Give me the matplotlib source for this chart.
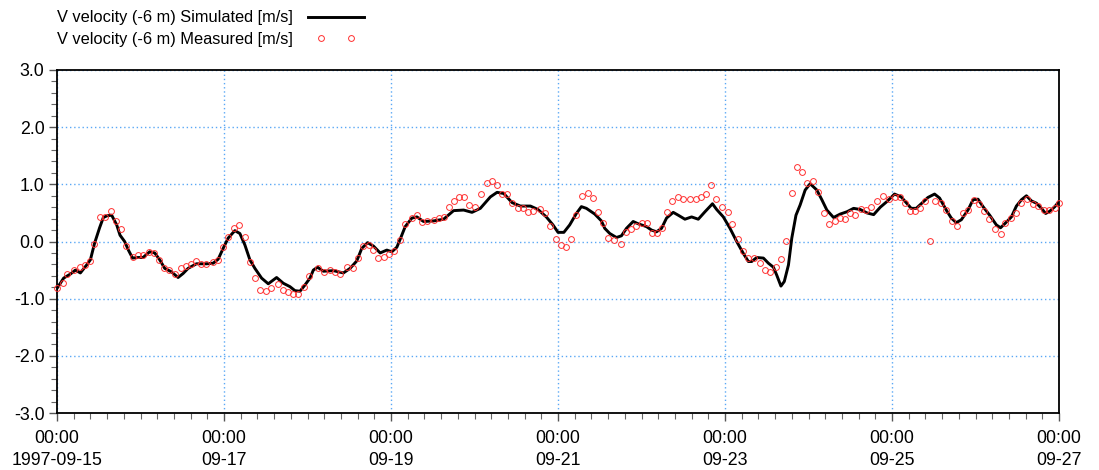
import matplotlib
matplotlib.use("Agg")
import matplotlib.pyplot as plt
from matplotlib.ticker import MultipleLocator, FixedLocator, FixedFormatter, FormatStrFormatter
from matplotlib.legend_handler import HandlerLine2D

plt.rcParams['font.family'] = ['Liberation Sans', 'DejaVu Sans']

# ---- data (days since 1997-09-15 00:00, velocity m/s) ----
sim_day = [0.00, 0.08, 0.16, 0.22, 0.28, 0.35, 0.40, 0.45, 0.51, 0.555, 0.60, 0.655, 0.715, 0.755,
           0.81, 0.855, 0.905, 0.97, 1.03, 1.11, 1.17, 1.23, 1.29, 1.37, 1.45, 1.51, 1.57, 1.67,
           1.79, 1.87, 1.93, 1.99, 2.05, 2.13, 2.19, 2.25, 2.31, 2.37, 2.45, 2.53, 2.63, 2.71,
           2.79, 2.85, 2.91, 2.97, 3.03, 3.07, 3.12, 3.19, 3.31, 3.43, 3.51, 3.59, 3.65, 3.72,
           3.79, 3.87, 3.95, 4.01, 4.07, 4.11, 4.17, 4.25, 4.31, 4.39, 4.51, 4.63, 4.75, 4.87,
           4.97, 5.07, 5.19, 5.27, 5.35, 5.45, 5.55, 5.67, 5.76, 5.86, 5.94, 6.00, 6.07, 6.14,
           6.22, 6.28, 6.34, 6.44, 6.52, 6.56, 6.62, 6.70, 6.76, 6.82, 6.90, 6.96, 7.06, 7.12,
           7.18, 7.24, 7.30, 7.38, 7.44, 7.52, 7.60, 7.68, 7.76, 7.85, 7.90, 7.98, 8.06, 8.14,
           8.22, 8.28, 8.32, 8.38, 8.46, 8.52, 8.58, 8.62, 8.67, 8.71, 8.76, 8.80, 8.85, 8.90,
           8.96, 9.02, 9.10, 9.16, 9.22, 9.30, 9.38, 9.46, 9.54, 9.62, 9.70, 9.78, 9.86, 9.94,
           10.03, 10.11, 10.17, 10.23, 10.29, 10.35, 10.43, 10.51, 10.57, 10.65, 10.71, 10.77,
           10.83, 10.91, 10.97, 11.03, 11.09, 11.17, 11.25, 11.30, 11.35, 11.43, 11.49, 11.55,
           11.61, 11.67, 11.73, 11.79, 11.84, 11.89, 11.95, 12.00]
sim_v = [-0.82, -0.64, -0.57, -0.50, -0.55, -0.42, -0.32, -0.03, 0.24, 0.42, 0.45, 0.46, 0.29, 0.11,
         0.00, -0.15, -0.29, -0.28, -0.28, -0.18, -0.20, -0.32, -0.47, -0.53, -0.63, -0.56, -0.47, -0.39,
         -0.39, -0.38, -0.31, -0.12, 0.06, 0.19, 0.14, -0.06, -0.32, -0.47, -0.64, -0.74, -0.63, -0.73,
         -0.79, -0.86, -0.87, -0.76, -0.64, -0.50, -0.45, -0.52, -0.51, -0.55, -0.47, -0.34, -0.12, -0.02,
         -0.08, -0.20, -0.15, -0.18, -0.10, 0.04, 0.26, 0.41, 0.43, 0.35, 0.36, 0.39, 0.54, 0.55,
         0.51, 0.58, 0.78, 0.86, 0.84, 0.68, 0.62, 0.62, 0.56, 0.43, 0.29, 0.16, 0.16, 0.29,
         0.49, 0.61, 0.58, 0.48, 0.36, 0.23, 0.14, 0.07, 0.10, 0.23, 0.35, 0.31, 0.26, 0.20,
         0.17, 0.23, 0.41, 0.51, 0.46, 0.39, 0.43, 0.39, 0.52, 0.66, 0.56, 0.43, 0.23, 0.00,
         -0.21, -0.35, -0.35, -0.28, -0.29, -0.38, -0.45, -0.59, -0.78, -0.70, -0.41, 0.06, 0.46, 0.64,
         0.90, 1.01, 0.90, 0.73, 0.55, 0.42, 0.48, 0.52, 0.58, 0.56, 0.50, 0.47, 0.60, 0.70,
         0.83, 0.78, 0.68, 0.58, 0.58, 0.66, 0.77, 0.83, 0.76, 0.55, 0.41, 0.33,
         0.38, 0.55, 0.73, 0.74, 0.61, 0.46, 0.29, 0.24, 0.31, 0.43, 0.62, 0.73,
         0.80, 0.71, 0.67, 0.58, 0.49, 0.53, 0.61, 0.70]

meas_day = [0.00, 0.07, 0.12, 0.20, 0.27, 0.335, 0.395, 0.447, 0.515, 0.575, 0.643, 0.707, 0.766,
            0.826, 0.906, 0.974, 1.034, 1.10, 1.166, 1.226, 1.286, 1.345, 1.413, 1.481, 1.541,
            1.601, 1.661, 1.721, 1.784, 1.872, 1.932, 1.992, 2.052, 2.12, 2.183, 2.251, 2.311,
            2.371, 2.431, 2.499, 2.559, 2.643, 2.703, 2.763, 2.83, 2.89, 2.958, 3.018, 3.13,
            3.20, 3.27, 3.33, 3.39, 3.47, 3.54, 3.61, 3.67, 3.74, 3.79, 3.85, 3.92, 3.98, 4.04,
            4.11, 4.17, 4.25, 4.31, 4.37, 4.43, 4.51, 4.57, 4.63, 4.69, 4.75, 4.81, 4.87, 4.94,
            5.01, 5.08, 5.15, 5.21, 5.27, 5.33, 5.39, 5.45, 5.52, 5.58, 5.64, 5.70, 5.78, 5.84,
            5.91, 5.98, 6.04, 6.10, 6.16, 6.22, 6.29, 6.36, 6.42, 6.48, 6.54, 6.60, 6.67, 6.75,
            6.81, 6.88, 6.94, 7.00, 7.06, 7.12, 7.19, 7.25, 7.31, 7.37, 7.44, 7.50, 7.58, 7.65,
            7.71, 7.77, 7.83, 7.89, 7.96, 8.03, 8.08, 8.15, 8.21, 8.28, 8.35, 8.42, 8.48, 8.54,
            8.61, 8.67, 8.73, 8.80, 8.86, 8.92, 8.98, 9.05, 9.11, 9.19, 9.25, 9.32, 9.38, 9.44,
            9.50, 9.56, 9.63, 9.69, 9.75, 9.82, 9.89, 9.96, 10.03, 10.09, 10.15, 10.22, 10.28,
            10.34, 10.40, 10.46, 10.52, 10.59, 10.65, 10.72, 10.78, 10.85, 10.91, 10.98, 11.04,
            11.10, 11.16, 11.23, 11.30, 11.35, 11.42, 11.49, 11.55, 11.62, 11.69, 11.75, 11.82,
            11.88, 11.95, 12.0]
meas_v = [-0.81, -0.72, -0.57, -0.49, -0.45, -0.41, -0.34, -0.04, 0.43, 0.43, 0.53, 0.36, 0.21,
          -0.08, -0.27, -0.24, -0.24, -0.18, -0.20, -0.32, -0.47, -0.50, -0.57, -0.46, -0.42,
          -0.40, -0.34, -0.39, -0.39, -0.36, -0.32, -0.10, 0.08, 0.24, 0.28, 0.07, -0.36,
          -0.63, -0.85, -0.86, -0.81, -0.74, -0.84, -0.88, -0.92, -0.92, -0.80, -0.60, -0.46,
          -0.53, -0.50, -0.54, -0.57, -0.45, -0.47, -0.29, -0.08, -0.06, -0.15, -0.28, -0.27, -0.21, -0.16,
          0.03, 0.31, 0.41, 0.46, 0.34, 0.36, 0.38, 0.41, 0.43, 0.61, 0.71, 0.77, 0.77, 0.63,
          0.61, 0.83, 1.03, 1.06, 0.98, 0.83, 0.83, 0.67, 0.59, 0.59, 0.51, 0.54, 0.56, 0.50,
          0.27, 0.04, -0.06, -0.09, 0.04, 0.46, 0.80, 0.84, 0.76, 0.52, 0.32, 0.06, 0.03, -0.05,
          0.17, 0.22, 0.27, 0.33, 0.32, 0.15, 0.15, 0.24, 0.51, 0.71, 0.77, 0.74, 0.74, 0.74,
          0.77, 0.83, 0.98, 0.74, 0.60, 0.52, 0.31, 0.04, -0.17, -0.28, -0.28, -0.37, -0.49, -0.53,
          -0.45, -0.31, 0.01, 0.84, 1.31, 1.22, 1.02, 1.06, 0.87, 0.49, 0.31, 0.36, 0.41, 0.39,
          0.50, 0.46, 0.56, 0.55, 0.61, 0.71, 0.80, 0.74, 0.77, 0.77, 0.67, 0.53, 0.53,
          0.58, 0.71, 0.01, 0.71, 0.67, 0.55, 0.36, 0.27, 0.50, 0.55, 0.73, 0.66,
          0.54, 0.39, 0.22, 0.13, 0.32, 0.41, 0.49, 0.67, 0.74, 0.66, 0.62, 0.55,
          0.55, 0.58, 0.67]

x_tick_days = [0, 2, 4, 6, 8, 10, 12]
x_tick_labels = ["00:00\n1997-09-15", "00:00\n09-17", "00:00\n09-19", "00:00\n09-21",
                 "00:00\n09-23", "00:00\n09-25", "00:00\n09-27"]
sim_label = "V velocity (-6 m) Simulated [m/s]"
meas_label = "V velocity (-6 m) Measured [m/s]"

# ---- figure ----
fig = plt.figure(figsize=(10.99, 4.70), dpi=100)
ax = fig.add_axes([57/1099, 1 - 413/470, (1059 - 57)/1099, (413 - 70)/470])

grid_color = '#5aa8f5'
ax.set_xlim(0, 12)
ax.set_ylim(-3, 3)
ax.xaxis.set_major_locator(FixedLocator(x_tick_days))
ax.xaxis.set_major_formatter(FixedFormatter(x_tick_labels))
ax.xaxis.set_minor_locator(MultipleLocator(0.2))
ax.yaxis.set_major_locator(MultipleLocator(1.0))
ax.yaxis.set_minor_locator(MultipleLocator(0.2))
ax.yaxis.set_major_formatter(FormatStrFormatter('%.1f'))

ax.grid(True, which='major', color=grid_color, linestyle=(0, (1, 2)), linewidth=1.0)
ax.set_axisbelow(True)

ax.tick_params(which='major', direction='out', length=6, width=1.0, color='#555555',
               labelsize=12.8, labelcolor='black')
ax.tick_params(axis='x', which='major', pad=6)
ax.tick_params(axis='y', which='major', pad=3)
ax.tick_params(which='minor', direction='out', length=4, width=0.8, color='#666666')
for lbl in ax.get_xticklabels():
    lbl.set_linespacing(1.4)

for s in ax.spines.values():
    s.set_color('black')
    s.set_linewidth(1.3)

(line_sim,) = ax.plot(sim_day, sim_v, color='black', linewidth=2.1, solid_joinstyle='round',
                      label=sim_label, zorder=3)
(line_meas,) = ax.plot(meas_day, meas_v, linestyle='none', marker='o', markersize=4.2,
                       markerfacecolor='none', markeredgecolor='#ff3030', markeredgewidth=0.7,
                       label=meas_label, zorder=4, clip_on=False)

leg = fig.legend(handles=[line_sim, line_meas], loc='upper left',
                 bbox_to_anchor=(54/1099, 1 - 7/470), frameon=False, markerfirst=False,
                 fontsize=11.8, handlelength=3.45, handletextpad=0.9, labelspacing=0.4,
                 borderaxespad=0, borderpad=0.2,
                 handler_map={line_meas: HandlerLine2D(numpoints=2, marker_pad=0.8)})

fig.savefig('out.png', dpi=100)
